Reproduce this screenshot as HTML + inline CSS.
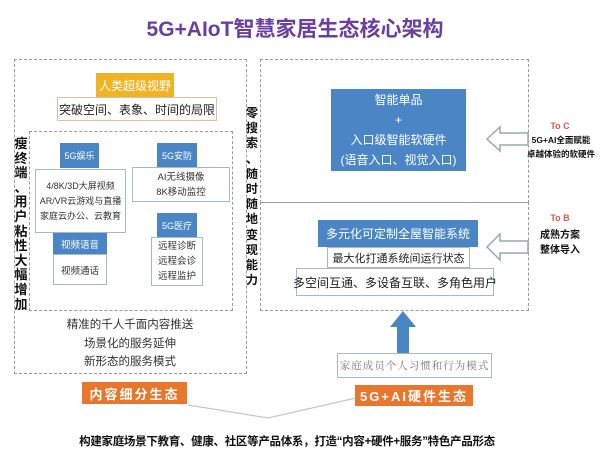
<!DOCTYPE html>
<html><head><meta charset="utf-8"><style>
*{margin:0;padding:0;box-sizing:border-box}
body{width:600px;height:459px;background:#fff;position:relative;overflow:hidden;font-family:"Liberation Sans","Noto Sans CJK SC",sans-serif;color:#333}
.a{position:absolute}
.c{display:flex;align-items:center;justify-content:center;text-align:center;white-space:nowrap}
.dash{border:1.5px dashed #9a9a9a}
.blue{background:#4a86c5;color:#fff}
.wb{background:#fff;border:1.5px solid #a8b8c8}
.org{background:#e8762c;color:#fff;font-weight:bold;letter-spacing:2px}
.vt{width:16px;font-weight:bold;color:#111;text-align:center;line-height:14.6px;font-size:13px}
</style></head><body>
<div class="a c" style="left:150px;top:12px;width:290px;height:32px;font-size:21px;font-weight:bold;color:#6b3fa0">5G+AIoT智慧家居生态核心架构</div>

<div class="a dash" style="left:14px;top:59px;width:233px;height:315px"></div>
<div class="a c" style="left:96px;top:73px;width:78px;height:24px;background:#f0b324;color:#fff;font-size:12px">人类超级视野</div>
<div class="a c" style="left:57px;top:97px;width:160px;height:24px;background:#fff;border:1.5px solid #d9c6a0;font-size:12px;color:#222">突破空间、表象、时间的局限</div>
<div class="a dash" style="left:29px;top:131px;width:204px;height:180px"></div>
<div class="a vt" style="left:13px;top:137px">瘦<br>终<br>端<br>、<br>用<br>户<br>粘<br>性<br>大<br>幅<br>增<br>加</div>

<div class="a c blue" style="left:60px;top:143px;width:39px;height:25px;font-size:9px">5G娱乐</div>
<div class="a c wb" style="left:35px;top:169px;width:91px;height:64px;font-size:9px;line-height:15px;color:#333">4/8K/3D大屏视频<br>AR/VR云游戏与直播<br>家庭云办公、云教育</div>
<div class="a c blue" style="left:53px;top:233px;width:54px;height:22px;font-size:9.5px">视频语音</div>
<div class="a c wb" style="left:53px;top:254px;width:54px;height:31px;font-size:9.5px">视频通话</div>

<div class="a c blue" style="left:157px;top:143px;width:40px;height:25px;font-size:9px">5G安防</div>
<div class="a c wb" style="left:132px;top:167px;width:98px;height:35px;font-size:9.5px;line-height:15px">AI无线摄像<br>8K移动监控</div>
<div class="a c blue" style="left:157px;top:213px;width:40px;height:25px;font-size:9px">5G医疗</div>
<div class="a c wb" style="left:151px;top:237px;width:52px;height:49px;font-size:9.5px;line-height:15px">远程诊断<br>远程会诊<br>远程监护</div>

<div class="a c" style="left:30px;top:316px;width:200px;height:56px;font-size:11.5px;line-height:18.5px;color:#333">精准的千人千面内容推送<br>场景化的服务延伸<br>新形态的服务模式</div>

<div class="a vt" style="left:244px;top:106px;font-size:12px;line-height:15.2px">零<br>搜<br>索<br>、<br>随<br>时<br>随<br>地<br>变<br>现<br>能<br>力</div>

<div class="a dash" style="left:260px;top:59px;width:269px;height:144px;border-bottom:1.5px solid #9a9a9a"></div>
<div class="a dash" style="left:260px;top:202px;width:269px;height:109px;border-top:none"></div>
<div class="a c blue" style="left:331px;top:89px;width:135px;height:82px;font-size:12px;line-height:20px">智能单品<br>+<br>入口级智能软硬件<br>(语音入口、视觉入口)</div>
<div class="a c blue" style="left:318px;top:220px;width:160px;height:27px;font-size:12px">多元化可定制全屋智能系统</div>
<div class="a c wb" style="left:327px;top:247px;width:143px;height:21px;font-size:11px;color:#222">最大化打通系统间运行状态</div>
<div class="a c wb" style="left:296px;top:268px;width:198px;height:28px;font-size:12px;color:#222">多空间互通、多设备互联、多角色用户</div>

<svg class="a" style="left:0;top:0" width="600" height="459">
 <polygon points="487,139 500,127 500,133 528,133 528,145 500,145 500,151" fill="#fff" stroke="#9aa" stroke-width="1.5"/>
 <polygon points="487,247 500,234 500,241 528,241 528,253 500,253 500,260" fill="#fff" stroke="#9aa" stroke-width="1.5"/>
 <polygon points="403,311 416,327 409,327 409,353 397,353 397,327 390,327" fill="#4a86c5"/>
 <polyline points="188,405 268,418 356,398" fill="none" stroke="#c0c8d0" stroke-width="1.2"/>
</svg>

<div class="a c" style="left:530px;top:119px;width:60px;height:14px;font-size:9px;color:#d8584a;font-weight:bold">To C</div>
<div class="a c" style="left:526px;top:133px;width:70px;height:14px;font-size:8.5px;font-weight:bold;color:#111">5G+AI全面赋能</div>
<div class="a c" style="left:526px;top:147px;width:70px;height:14px;font-size:8.5px;font-weight:bold;color:#111">卓越体验的软硬件</div>
<div class="a c" style="left:530px;top:211px;width:60px;height:14px;font-size:9px;color:#d8584a;font-weight:bold">To B</div>
<div class="a c" style="left:530px;top:226px;width:60px;height:14px;font-size:10px;font-weight:bold;color:#111">成熟方案</div>
<div class="a c" style="left:530px;top:241px;width:60px;height:14px;font-size:10px;font-weight:bold;color:#111">整体导入</div>

<div class="a c wb" style="left:337px;top:353px;width:155px;height:25px;font-size:10.5px;color:#777;font-family:'Liberation Serif','Noto Serif CJK SC',serif;letter-spacing:1px">家庭成员个人习惯和行为模式</div>
<div class="a c org" style="left:82px;top:382px;width:105px;height:22px;font-size:13px">内容细分生态</div>
<div class="a c org" style="left:355px;top:385px;width:118px;height:21px;font-size:13px">5G+AI硬件生态</div>
<div class="a c" style="left:60px;top:432px;width:454px;height:17px;font-size:11.5px;font-weight:bold;color:#111;letter-spacing:-0.3px">构建家庭场景下教育、健康、社区等产品体系，打造“内容+硬件+服务”特色产品形态</div>
</body></html>
